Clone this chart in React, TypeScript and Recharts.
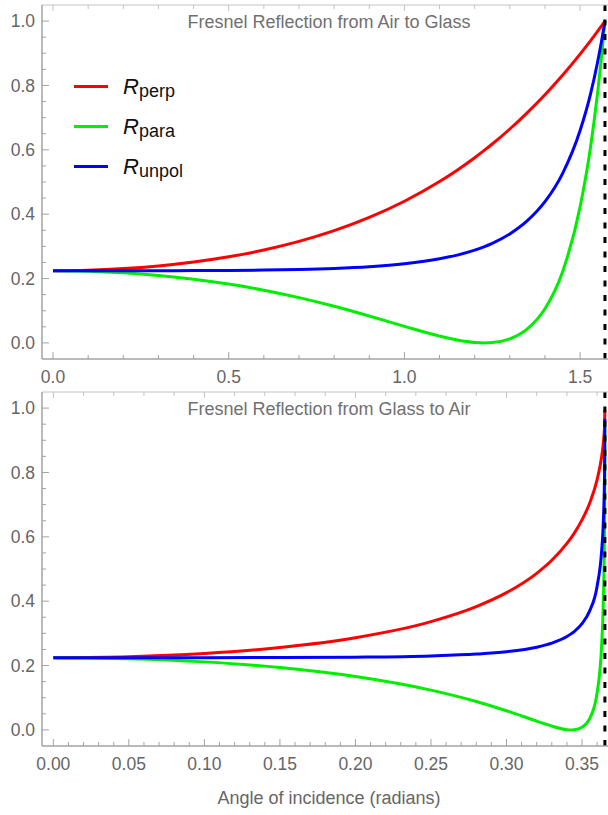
import React from 'react';
import { LineChart, Line, XAxis, YAxis, ReferenceLine } from 'recharts';

// ---------- Data: Air -> Glass ----------
const topAngle = [0, 0.1, 0.2, 0.3, 0.4, 0.5, 0.6, 0.7, 0.8, 0.9, 1.0, 1.1, 1.15, 1.2, 1.228, 1.25, 1.3, 1.35, 1.4, 1.45, 1.5, 1.53, 1.55, 1.56, 1.5708];
const topPerp = [0.2244, 0.2260, 0.2309, 0.2392, 0.2513, 0.2676, 0.2887, 0.3155, 0.3488, 0.3899, 0.4402, 0.5014, 0.5367, 0.5755, 0.5989, 0.6181, 0.6647, 0.7157, 0.7712, 0.8317, 0.8975, 0.9393, 0.9687, 0.9836, 1.0];
const topPara = [0.2244, 0.2228, 0.2179, 0.2098, 0.1981, 0.1828, 0.1638, 0.1407, 0.1138, 0.0835, 0.0514, 0.0211, 0.0090, 0.0013, 0.0, 0.0010, 0.0127, 0.0437, 0.1062, 0.2206, 0.4228, 0.6103, 0.7791, 0.8785, 1.0];
const topUnpol = [0.2244, 0.2244, 0.2244, 0.2245, 0.2247, 0.2252, 0.2262, 0.2281, 0.2313, 0.2367, 0.2458, 0.2613, 0.2729, 0.2884, 0.2994, 0.3096, 0.3387, 0.3797, 0.4387, 0.5262, 0.6601, 0.7748, 0.8739, 0.9311, 1.0];

// ---------- Data: Glass -> Air ----------
const botAngle = [0, 0.05, 0.1, 0.15, 0.2, 0.25, 0.28, 0.3, 0.32, 0.33, 0.34, 0.343, 0.345, 0.35, 0.355, 0.36, 0.363, 0.364, 0.365, 0.3651];
const botPerp = [0.2244, 0.2276, 0.2376, 0.2560, 0.2864, 0.3364, 0.3831, 0.4264, 0.4866, 0.5271, 0.5795, 0.5985, 0.6124, 0.6526, 0.7038, 0.7776, 0.8489, 0.8862, 0.9526, 0.995];
const botPara = [0.2244, 0.2212, 0.2114, 0.1937, 0.1659, 0.1236, 0.0883, 0.0596, 0.0274, 0.0119, 0.0009, 0.0, 0.0005, 0.0083, 0.0345, 0.1157, 0.2644, 0.3808, 0.6826, 0.94];
const botUnpol = [0.2244, 0.2244, 0.2245, 0.2248, 0.2261, 0.2300, 0.2357, 0.2430, 0.2570, 0.2695, 0.2902, 0.2992, 0.3064, 0.3304, 0.3692, 0.4467, 0.5567, 0.6335, 0.8176, 0.967];

// ---------- Limits / reference lines ----------
const topLimit = 1.5708; // pi/2
const botLimit = 0.36515; // critical angle

// ---------- Ticks ----------
const yMajor = [0, 0.2, 0.4, 0.6, 0.8, 1.0];
const yLabels = ['0.0', '0.2', '0.4', '0.6', '0.8', '1.0'];
const topXMajor = [0, 0.5, 1.0, 1.5];
const topXLabels = ['0.0', '0.5', '1.0', '1.5'];
const botXMajor = [0, 0.05, 0.1, 0.15, 0.2, 0.25, 0.3, 0.35];
const botXLabels = ['0.00', '0.05', '0.10', '0.15', '0.20', '0.25', '0.30', '0.35'];
const botTopMajor = [0, 0.1, 0.2, 0.3];

const titles = ['Fresnel Reflection from Air to Glass', 'Fresnel Reflection from Glass to Air'];
const xTitle = 'Angle of incidence (radians)';
const seriesNames = [
  { base: 'R', sub: 'perp', color: '#ff0000', key: 'perp' },
  { base: 'R', sub: 'para', color: '#00ee00', key: 'para' },
  { base: 'R', sub: 'unpol', color: '#0000ff', key: 'unpol' },
];

const steps = (from: number, to: number, step: number) => {
  const out: number[] = [];
  const n = Math.round((to - from) / step);
  for (let i = 0; i <= n; i++) out.push(+(from + i * step).toFixed(6));
  return out;
};

const topData = topAngle.map((x, i) => ({ x, perp: topPerp[i], para: topPara[i], unpol: topUnpol[i] }));
const botData = botAngle.map((x, i) => ({ x, perp: botPerp[i], para: botPara[i], unpol: botUnpol[i] }));

const AXIS = '#a3a3a3';
const FRAME_TOP = '#c4c4c4';
const LABEL = '#666666';
const FONT = '"Liberation Sans", Arial, sans-serif';

const idx = (arr: number[], v: number) => arr.findIndex((m) => Math.abs(m - v) < 1e-7);

const makeYTick = (majors: number[], labels: string[]) => (props: any) => {
  const { x, y, payload } = props;
  const i = idx(majors, payload.value);
  const major = i >= 0;
  return (
    <g>
      <line x1={x} x2={x + (major ? 7 : 4)} y1={y} y2={y} stroke={AXIS} strokeWidth={1} />
      {major && (
        <text x={x - 7} y={y} dy="0.35em" textAnchor="end" fontSize={17.5} fill={LABEL} fontFamily={FONT}>
          {labels[i]}
        </text>
      )}
    </g>
  );
};

const makeBottomTick = (majors: number[], labels: string[]) => (props: any) => {
  const { x, y, payload } = props;
  const i = idx(majors, payload.value);
  const major = i >= 0;
  return (
    <g>
      <line x1={x} x2={x} y1={y} y2={y - (major ? 7 : 4)} stroke={AXIS} strokeWidth={1} />
      {major && (
        <text x={x} y={y + 18} dy="0.35em" textAnchor="middle" fontSize={17.5} fill={LABEL} fontFamily={FONT}>
          {labels[i]}
        </text>
      )}
    </g>
  );
};

const makeTopTick = (majors: number[]) => (props: any) => {
  const { x, y, payload } = props;
  const major = idx(majors, payload.value) >= 0;
  return <line x1={x} x2={x} y1={y} y2={y + (major ? 6 : 4)} stroke={FRAME_TOP} strokeWidth={1} />;
};

const Panel = ({ data, domainX, bottomTicks, bottomMajor, bottomLabels, topTicks, topMajor, limit, height, marginTop, xAxisHeight }: any) => (
  <LineChart width={616} height={height} data={data} margin={{ top: marginTop, right: 0, bottom: 0, left: 0 }}>
    <XAxis
      dataKey="x"
      type="number"
      scale="linear"
      domain={domainX}
      allowDataOverflow
      ticks={bottomTicks}
      interval={0}
      tickSize={0}
      tickMargin={0}
      height={xAxisHeight}
      tick={makeBottomTick(bottomMajor, bottomLabels)}
      axisLine={{ stroke: AXIS, strokeWidth: 1.5 }}
    />
    <XAxis
      xAxisId="top"
      dataKey="x"
      orientation="top"
      type="number"
      scale="linear"
      domain={domainX}
      allowDataOverflow
      ticks={topTicks}
      interval={0}
      tickSize={0}
      tickMargin={0}
      height={5}
      tick={makeTopTick(topMajor)}
      axisLine={{ stroke: FRAME_TOP, strokeWidth: 1 }}
    />
    <YAxis
      type="number"
      domain={[-0.05, 1.05]}
      allowDataOverflow
      ticks={steps(0, 1, 0.05)}
      interval={0}
      tickSize={0}
      tickMargin={0}
      width={42}
      tick={makeYTick(yMajor, yLabels)}
      axisLine={{ stroke: AXIS, strokeWidth: 1.5 }}
    />
    {seriesNames.map((s) => (
      <Line
        key={s.key}
        type="monotone"
        dataKey={s.key}
        stroke={s.color}
        strokeWidth={3}
        dot={false}
        activeDot={false}
        isAnimationActive={false}
      />
    ))}
    <ReferenceLine x={limit} stroke="#000" strokeWidth={3} strokeDasharray="6 8.5" />
  </LineChart>
);

const LegendBox = () => (
  <div style={{ position: 'absolute', left: 74, top: 66, fontFamily: FONT }}>
    {seriesNames.map((s) => (
      <div key={s.key} style={{ display: 'flex', alignItems: 'center', height: 40 }}>
        <div style={{ width: 34, height: 3, background: s.color }} />
        <div style={{ marginLeft: 15, color: '#111', whiteSpace: 'nowrap', lineHeight: '24px', marginTop: 4 }}>
          <span style={{ fontStyle: 'italic', fontSize: 22 }}>{s.base}</span>
          <span style={{ fontSize: 18, position: 'relative', top: 3 }}>{s.sub}</span>
        </div>
      </div>
    ))}
  </div>
);

export default function App() {
  return (
    <div style={{ position: 'absolute', left: 0, top: 0, width: 608, height: 815, overflow: 'hidden', background: '#fff', fontFamily: FONT }}>
      <div style={{ position: 'absolute', left: 0, top: 0 }}>
        <Panel
          data={topData}
          domainX={[-0.0314, 1.6022]}
          bottomTicks={steps(0, 1.5, 0.1)}
          bottomMajor={topXMajor}
          bottomLabels={topXLabels}
          topTicks={steps(0, 1.6, 0.1)}
          topMajor={topXMajor}
          limit={topLimit}
          height={392}
          marginTop={0}
          xAxisHeight={33}
        />
      </div>
      <div style={{ position: 'absolute', left: 0, top: 385 }}>
        <Panel
          data={botData}
          domainX={[-0.0075, 0.3725]}
          bottomTicks={steps(0, 0.36, 0.01)}
          bottomMajor={botXMajor}
          bottomLabels={botXLabels}
          topTicks={steps(0, 0.36, 0.02)}
          topMajor={botTopMajor}
          limit={botLimit}
          height={430}
          marginTop={2}
          xAxisHeight={69}
        />
      </div>
      <div style={{ position: 'absolute', left: 42, width: 574, top: 11, lineHeight: '22px', textAlign: 'center', fontSize: 18, color: '#707070' }}>
        {titles[0]}
      </div>
      <div style={{ position: 'absolute', left: 42, width: 574, top: 398, lineHeight: '22px', textAlign: 'center', fontSize: 18, color: '#707070' }}>
        {titles[1]}
      </div>
      <div style={{ position: 'absolute', left: 42, width: 574, top: 787, lineHeight: '22px', textAlign: 'center', fontSize: 18, color: LABEL }}>
        {xTitle}
      </div>
      <LegendBox />
    </div>
  );
}
